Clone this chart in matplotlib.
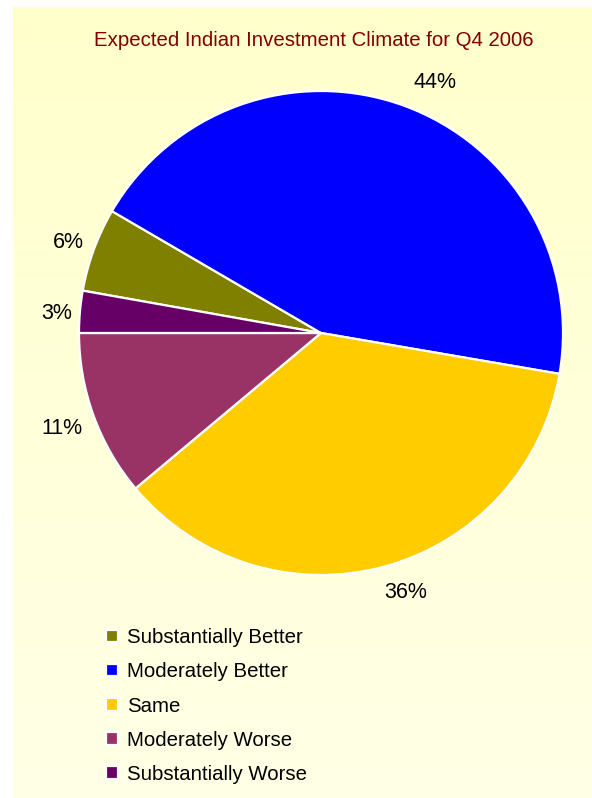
import numpy as np
import matplotlib.pyplot as plt
from matplotlib.colors import LinearSegmentedColormap

plt.rcParams['font.family'] = ['Liberation Sans', 'DejaVu Sans']

# Data
categories = ['Substantially Better', 'Moderately Better', 'Same',
              'Moderately Worse', 'Substantially Worse']
shares = [5.6, 44.3, 36.2, 11.1, 2.8]
colors = ['#808000', '#0000FF', '#FFCC00', '#993366', '#660066']
title = 'Expected Indian Investment Climate for Q4 2006'

# label nudges in pixels (dx right, dy down) from the default pct position
label_nudge = [(2, 3), (21, 4), (14, -2), (-4, 3), (6, 4)]

W, H = 592, 798
fig = plt.figure(figsize=(W / 100, H / 100), dpi=100, facecolor='white')

# light yellow panel with a soft vertical gradient
bg = fig.add_axes([13 / W, 0, 1 - 13 / W, 1 - 7 / H], zorder=-1)
cmap = LinearSegmentedColormap.from_list('bg', ['#FFFFE6', '#FFFFCC'])
bg.imshow(np.linspace(0, 1, 256).reshape(-1, 1), cmap=cmap, aspect='auto',
          origin='lower', extent=[0, 1, 0, 1])
bg.set_axis_off()

# pie axes: radius 1 -> 242 px, centre at (321, 333) from top
R = 242
lim = 1.3
side = 2 * lim * R
cx, cy = 321, H - 333
ax = fig.add_axes([(cx - side / 2) / W, (cy - side / 2) / H, side / W, side / H])

start = 180 - shares[-1] / 100 * 360
wedges, _, autotexts = ax.pie(
    shares, colors=colors, startangle=start, counterclock=False,
    autopct='%.0f%%', pctdistance=1.12,
    wedgeprops=dict(edgecolor='white', linewidth=1.6),
    textprops=dict(fontsize=15.5, color='black'))
ax.set_xlim(-lim, lim)
ax.set_ylim(-lim, lim)
ax.set_aspect('equal')
ax.set_axis_off()
for w in wedges:
    w.set_clip_on(False)
for t, (dx, dy) in zip(autotexts, label_nudge):
    x, y = t.get_position()
    t.set_position((x + dx / R, y - dy / R))

fig.text(314 / W, 1 - 40 / H, title, ha='center', va='center',
         fontsize=14.7, color='#800000')

fig.legend(wedges, categories, loc='upper left',
           bbox_to_anchor=(88 / W, 1 - 610 / H), frameon=False,
           fontsize=14.7, handlelength=0.55, handleheight=0.55,
           handletextpad=0.45, labelspacing=0.74)

fig.savefig('out.png', dpi=100, facecolor=fig.get_facecolor())
